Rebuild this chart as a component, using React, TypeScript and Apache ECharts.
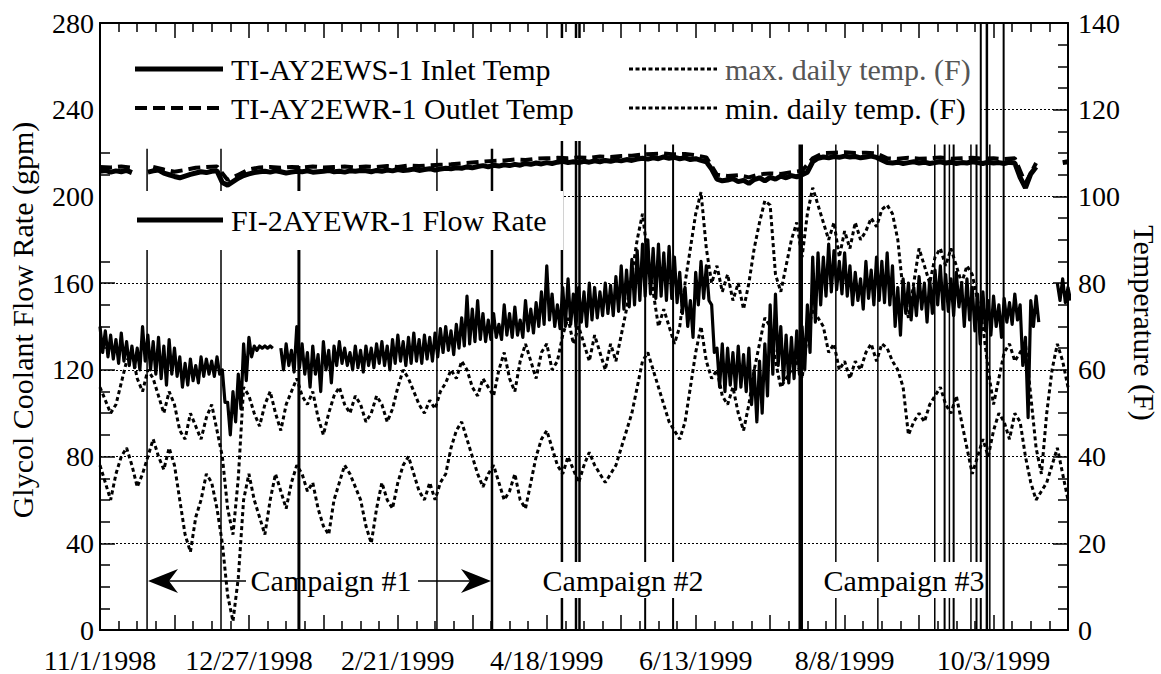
import React, { useEffect, useRef } from 'react';
import * as echarts from 'echarts';

// ---------- axis labels ----------
const dateLabels = ['11/1/1998', '12/27/1998', '2/21/1999', '4/18/1999', '6/13/1999', '8/8/1999', '10/3/1999'];
const labelStepDays = 56;
const dayMax = 364;

// ---------- data (day 0 = 11/1/1998) ----------
const sampleStepDays = 2; // flow, inlet, daily temps
const outletStepDays = 4;

// FI-2AYEWR-1 flow rate (gpm), upper / lower edge of the noisy trace, every 2 days
const flowHigh = [
  140, 138, 136, 134, 137, 133, 131, 130, 140, 136,
  133, 135, 131, 134, 130, 126, 123, 125, 122, 126,
  125, 124, 126, 120, 105, 110, 118, 132, 135, 131,
  131, 131, 131, null, 130, 132, 129, 140, 132, 128,
  131, 127, 133, 129, 131, 133, 130, 128, 131, 129,
  131, 130, 132, 133, 131, 134, 136, 133, 135, 137,
  134, 136, 135, 137, 139, 140, 138, 141, 144, 154,
  148, 152, 146, 143, 146, 141, 150, 146, 149, 143,
  152, 148, 151, 156, 168, 155, 150, 158, 162, 155,
  158, 156, 160, 158, 156, 160, 159, 163, 168, 166,
  171, 175, 178, 180, 176, 178, 174, 177, 172, 165,
  158, 152, 165, 170, 168, 150, 130, 132, 130, 128,
  131, 127, 130, 120, 124, 132, 150, 155, 140, 136,
  135, 138, 140, 150, 172, 174, 172, 178, 175, 170,
  174, 168, 165, 162, 170, 166, 172, 170, 174, 168,
  158, 162, 160, 158, 163, 160, 162, 166, 168, 164,
  162, 165, 160, 162, 158, 155, 156, 152, 154, 150,
  153, 151, 155, 150, 135, 152, 154, null, null, null,
  160, 162, 158,
];
const flowLow = [
  128, 126, 125, 123, 124, 122, 121, 120, 124, 120,
  118, 116, 113, 118, 117, 112, 113, 115, 114, 117,
  118, 117, 118, 105, 90, 96, 102, 115, 126, 129,
  130, 130, 130, null, 120, 122, 119, 121, 118, 112,
  118, 110, 120, 114, 122, 123, 122, 120, 121, 119,
  122, 121, 123, 122, 120, 123, 124, 122, 123, 124,
  123, 125, 124, 126, 128, 129, 127, 130, 131, 132,
  133, 134, 133, 134, 135, 134, 136, 135, 136, 135,
  138, 137, 140, 141, 143, 140, 139, 140, 141, 140,
  142, 140, 143, 144, 145, 146, 145, 147, 148, 149,
  150, 152, 154, 155, 153, 154, 152, 153, 151, 146,
  140, 135, 150, 153, 152, 128, 112, 110, 113, 111,
  112, 110, 104, 96, 100, 108, 118, 122, 115, 114,
  116, 118, 120, 128, 142, 150, 154, 156, 157, 155,
  154, 150, 152, 148, 153, 150, 152, 151, 150, 140,
  136, 146, 143, 145, 148, 142, 146, 150, 148, 147,
  145, 149, 140, 143, 138, 132, 138, 136, 140, 135,
  142, 141, 143, 122, 98, 140, 142, null, null, null,
  152, 151, 152,
];

// TI-AY2EWS-1 inlet temperature (F), every 2 days
const inletTemp = [
  105.8, 106.0, 105.6, 105.9, 105.7, 106.0, 105.5, null, null,
  105.6, 105.9, 106.1, 105.4, 105.0, 104.6, 104.3, 104.7, 105.1, 105.4, 105.7, 105.5, 105.8, 105.9,
  103.2, 102.6, 103.4, 104.2, 104.8, 105.2, 105.5,
  105.7, 105.8, 105.6, 105.9, 105.7, 105.4, 105.6, 105.8, 105.7, 105.9, 105.6, 105.7,
  105.8, 106.0, 105.7, 105.8, 105.6, 105.9, 105.8, 106.0, 105.9, 105.7, 106.0, 105.8,
  106.1, 105.9, 106.2, 106.0, 106.1, 106.3, 106.0, 106.2, 106.4, 106.1, 106.3, 106.5,
  106.4, 106.6, 106.5, 106.8, 106.6, 106.9, 107.1, 106.8, 107.2, 107.0, 107.3, 107.1,
  107.4, 107.2, 107.6, 107.4, 107.7, 107.5, 107.8, 107.6, 107.9, 108.1, 107.8,
  108.0, 107.8, 108.1, 107.9, 108.2, 108.0, 108.3, 108.1, 108.4, 108.2, 108.5, 108.3, 108.6, 108.8,
  108.6, 108.9, 108.7, 109.1, 108.8, 109.0, 108.7, 108.9, 108.5, 108.7, 108.3, 108.0,
  106.3, 104.0, 103.6, 103.8, 104.1, 103.4, 103.7, 103.0, 103.9, 104.3, 103.6, 104.4,
  104.0, 104.7, 104.3, 104.8, 104.5, 105.0,
  105.6, 108.0, 108.8, 109.1, 108.9, 109.2, 109.0, 109.3, 109.1, 109.2, 108.9, 109.1, 109.3, 109.0,
  108.4, 107.8, 107.7, 107.9, 107.6, 107.8, 108.0, 107.7, 107.9, 107.6, 107.8, 108.0, 107.7,
  107.9, 107.6, 107.8, 107.7, 108.0, 107.8, 107.6, 107.9, 107.7, 107.8, 107.6, 107.9, 107.7,
  104.4, 102.0, 105.2, 106.8,
  null, null, null, null,
  107.8, 108.0,
];

// TI-AY2EWR-1 outlet temperature (F), every 4 days
const outletTemp = [
  106.8, 106.7, 106.9, 106.6, null, 106.8, 106.2, 105.7, 106.1, 106.6,
  106.8, 106.9, 103.8, 105.0, 106.2, 106.7, 106.8, 106.6, 106.8, 106.7,
  106.9, 106.7, 106.8, 106.9, 106.7, 106.9, 106.8, 107.0, 106.8, 107.1,
  107.0, 107.2, 107.3, 107.4, 107.6, 107.8, 108.0, 108.2, 108.3, 108.5,
  108.4, 108.7, 108.8, 108.9, 108.8, 109.0, 108.9, 109.2, 109.1, 109.3,
  109.4, 109.7, 109.8, 109.9, 109.7, 109.8, 109.5, 109.0, 105.0, 104.7,
  104.9, 104.4, 105.1, 105.3, 105.2, 105.6, 105.9, 108.8, 110.0, 110.1,
  110.2, 110.0, 110.1, 109.9, 108.8, 108.7, 108.9, 108.7, 108.8, 109.0,
  108.7, 108.8, 108.9, 108.7, 108.8, 108.6, 108.8, 103.0, 107.7, null,
  null, 108.8,
];

// max. / min. daily ambient temperature (F), every 2 days
const maxDailyTemp = [
  56, 53, 50, 52, 57, 62, 64, 58, 55, 60,
  58, 54, 50, 55, 52, 46, 44, 50, 47, 44,
  49, 52, 46, 40, 28, 22, 35, 56, 54, 50,
  47, 52, 55, 50, 46, 52, 55, 58, 54, 52,
  55, 49, 45, 50, 54, 56, 52, 50, 54, 52,
  48, 50, 54, 52, 48, 51, 56, 60, 58, 55,
  52, 50, 53, 51, 55, 57, 60, 58, 62, 60,
  56, 54, 58, 56, 54, 60, 64, 58, 55, 62,
  66, 62, 58, 64, 66, 60, 62, 68, 72, 66,
  70, 66, 62, 68, 64, 60, 66, 62, 68, 74,
  82, 90, 96, 86, 78, 70, 74, 70, 66, 70,
  80, 88, 96, 101, 88, 80, 84, 78, 82, 76,
  80, 74, 80, 88, 94, 99, 98, 82, 78, 84,
  90, 94, 86, 96, 102, 98, 94, 90, 94, 86,
  92, 88, 94, 90, 92, 95, 93, 97, 98, 96,
  90, 78, 72, 80, 88, 84, 80, 86, 88, 84,
  88, 84, 80, 84, 82, 76, 70, 60, 52, 58,
  64, 66, 62, 64, 66, 54, 42, 36, 50, 60,
  66, 62, 56,
];
const minDailyTemp = [
  38, 34, 30, 36, 40, 42, 38, 33, 36, 40,
  44, 40, 37, 42, 38, 30, 22, 18, 26, 30,
  36, 34, 28, 20, 8, 2, 12, 30, 36, 30,
  26, 22, 30, 36, 32, 28, 34, 38, 36, 32,
  34, 28, 24, 22, 30, 34, 38, 36, 33, 30,
  24, 20, 28, 34, 30, 28, 34, 38, 40, 36,
  32, 30, 34, 30, 34, 36, 42, 46, 48, 44,
  40, 36, 33, 36, 38, 34, 30, 32, 36, 30,
  28, 34, 40, 44, 46, 42, 38, 36, 40, 37,
  34, 38, 41, 38, 36, 34, 36, 38, 42, 46,
  50, 56, 62, 64, 60, 56, 52, 48, 46, 44,
  48, 56, 64, 70, 62, 58, 60, 54, 52, 56,
  50, 46, 52, 60, 66, 72, 70, 62, 56, 58,
  60, 62, 58, 68, 74, 72, 70, 64, 66, 60,
  62, 58, 62, 60, 64, 66, 62, 66, 65, 62,
  60, 56, 45, 48, 50, 48, 52, 54, 56, 52,
  50, 54, 48, 42, 36, 40, 44, 40, 46, 50,
  48, 44, 50, 48, 40, 34, 30, 32, 34, 38,
  42, 36, 30,
];

// short outages / off-scale readings (vertical strokes): day, top (F), stroke width
const spikeDays = [17.7, 45.5, 74.8, 126.7, 147.4, 173.7, 179.0, 180.3, 205.0, 215.5, 263.5, 276.7, 292.5, 313.9, 317.6, 319.4, 321.0, 327.5, 329.6, 331.2, 333.5, 334.6, 339.8];
const spikeTops = [111, 111, 107, 111, 111, 150, 150, 150, 112, 112, 112, 112, 112, 112, 112, 112, 112, 112, 112, 150, 150, 112, 150];
const spikeWidths = [1.5, 1.5, 3, 1.5, 2.5, 2.5, 2.5, 2.5, 2, 2, 4.5, 1.5, 1.5, 1.5, 2, 1.5, 2, 1.5, 2, 2, 2.5, 1.5, 2];

const FONT = '"Liberation Serif", "Times New Roman", Times, serif';

function buildOption() {
  const flowTrace: any[] = [];
  flowHigh.forEach((hi, k) => {
    const lo = flowLow[k];
    if (hi == null || lo == null) {
      flowTrace.push([k * sampleStepDays, null]);
    } else {
      flowTrace.push([k * sampleStepDays, hi]);
      flowTrace.push([k * sampleStepDays + 1, lo]);
    }
  });
  const inlet = inletTemp.map((v, i) => [i * sampleStepDays, v]);
  const outlet = outletTemp.map((v, i) => [i * outletStepDays, v]);
  const maxT = maxDailyTemp.map((v, i) => [i * sampleStepDays, v]);
  const minT = minDailyTemp.map((v, i) => [i * sampleStepDays, v]);
  const spikes = spikeDays.map((d, i) => [d, spikeTops[i], spikeWidths[i]]);

  const xLabelFmt = (v: number) => {
    if (v % labelStepDays === 0) {
      const idx = v / labelStepDays;
      return dateLabels[idx] ?? '';
    }
    return '';
  };

  const axisLine = { show: true, onZero: false, lineStyle: { color: '#000', width: 2 } };
  const labelStyle = { color: '#000', fontSize: 28, fontFamily: FONT };

  const xCommon = {
    type: 'value', min: 0, max: dayMax, interval: 28,
    axisLine,
    axisTick: { show: true, inside: true, length: 15, lineStyle: { color: '#000', width: 1.5 } },
    minorTick: { show: true, splitNumber: 4, length: 9, lineStyle: { color: '#000', width: 1.5 } },
    splitLine: { show: false },
    minorSplitLine: { show: false },
  };

  const legendY1 = 69, legendY2 = 108, legendY3 = 220;
  const textStyle = (text: string, fill = '#000', align = 'left', size = 30) => ({
    text, fill, fontSize: size, fontFamily: FONT,
    align, verticalAlign: 'middle', textAlign: align, textVerticalAlign: 'middle',
  });

  const graphic: any[] = [
    // white boxes behind legend / labels
    { type: 'rect', z: 100, shape: { x: 101, y: 38, width: 877, height: 103 }, style: { fill: '#fff' } },
    { type: 'rect', z: 100, shape: { x: 101, y: 191, width: 462, height: 59 }, style: { fill: '#fff' } },
    { type: 'rect', z: 100, shape: { x: 540, y: 562, width: 166, height: 36 }, style: { fill: '#fff' } },
    { type: 'rect', z: 100, shape: { x: 823, y: 562, width: 161, height: 36 }, style: { fill: '#fff' } },
    // legend samples
    { type: 'line', z: 101, shape: { x1: 135, y1: legendY1, x2: 223, y2: legendY1 }, style: { stroke: '#000', lineWidth: 5 } },
    { type: 'line', z: 101, shape: { x1: 135, y1: legendY2, x2: 223, y2: legendY2 }, style: { stroke: '#000', lineWidth: 4, lineDash: [12, 6] } },
    { type: 'line', z: 101, shape: { x1: 137, y1: legendY3, x2: 223, y2: legendY3 }, style: { stroke: '#000', lineWidth: 5 } },
    { type: 'line', z: 101, shape: { x1: 629, y1: legendY1, x2: 717, y2: legendY1 }, style: { stroke: '#000', lineWidth: 3, lineDash: [4, 2.5] } },
    { type: 'line', z: 101, shape: { x1: 629, y1: legendY2, x2: 717, y2: legendY2 }, style: { stroke: '#000', lineWidth: 3, lineDash: [4, 2.5] } },
    { type: 'text', z: 101, x: 231, y: legendY1, style: textStyle('TI-AY2EWS-1 Inlet Temp') },
    { type: 'text', z: 101, x: 231, y: legendY2, style: textStyle('TI-AY2EWR-1 Outlet Temp') },
    { type: 'text', z: 101, x: 231, y: legendY3, style: textStyle('FI-2AYEWR-1 Flow Rate') },
    { type: 'text', z: 101, x: 725, y: legendY1, style: textStyle('max. daily temp. (F)', '#555') },
    { type: 'text', z: 101, x: 725, y: legendY2, style: textStyle('min. daily temp. (F)') },
    // campaign annotations
    { type: 'line', z: 101, shape: { x1: 168, y1: 581, x2: 246, y2: 581 }, style: { stroke: '#000', lineWidth: 1.5 } },
    { type: 'polygon', z: 101, shape: { points: [[148, 581], [178, 569], [169, 581], [178, 593]] }, style: { fill: '#000' } },
    { type: 'line', z: 101, shape: { x1: 418, y1: 581, x2: 472, y2: 581 }, style: { stroke: '#000', lineWidth: 1.5 } },
    { type: 'polygon', z: 101, shape: { points: [[491, 581], [461, 569], [470, 581], [461, 593]] }, style: { fill: '#000' } },
    { type: 'text', z: 101, x: 331, y: 580, style: textStyle('Campaign #1', '#000', 'center') },
    { type: 'text', z: 101, x: 623, y: 580, style: textStyle('Campaign #2', '#000', 'center') },
    { type: 'text', z: 101, x: 904, y: 580, style: textStyle('Campaign #3', '#000', 'center') },
    // axis titles
    { type: 'text', z: 101, x: 22, y: 320, rotation: Math.PI / 2, style: textStyle('Glycol Coolant Flow Rate (gpm)', '#000', 'center') },
    { type: 'text', z: 101, x: 1144, y: 323, rotation: -Math.PI / 2, style: textStyle('Temperature (F)', '#000', 'center') },
  ];

  return {
    animation: false,
    backgroundColor: '#fff',
    grid: { left: 100, right: 93, top: 23, bottom: 44, containLabel: false, outerBoundsMode: 'none' },
    xAxis: [
      { ...xCommon, position: 'bottom', axisLabel: { ...labelStyle, margin: 16, formatter: xLabelFmt, showMinLabel: true, showMaxLabel: true, hideOverlap: false } },
      { ...xCommon, position: 'top', axisLabel: { show: false } },
    ],
    yAxis: [
      {
        type: 'value', min: 0, max: 280, interval: 40, position: 'left',
        axisLine,
        axisTick: { show: true, inside: true, length: 15, lineStyle: { color: '#000', width: 1.5 } },
        minorTick: { show: true, splitNumber: 4, length: 10, lineStyle: { color: '#000', width: 1.5 } },
        axisLabel: { ...labelStyle, margin: 6 },
        splitLine: { show: true, lineStyle: { color: '#000', width: 1, type: [2, 2] } },
        minorSplitLine: { show: false },
      },
      {
        type: 'value', min: 0, max: 140, interval: 20, position: 'right',
        axisLine,
        axisTick: { show: true, inside: true, length: 15, lineStyle: { color: '#000', width: 1.5 } },
        minorTick: { show: true, splitNumber: 4, length: 10, lineStyle: { color: '#000', width: 1.5 } },
        axisLabel: { ...labelStyle, margin: 10 },
        splitLine: { show: false },
        minorSplitLine: { show: false },
      },
    ],
    series: [
      {
        name: 'max. daily temp. (F)', type: 'line', xAxisIndex: 0, yAxisIndex: 1, data: maxT,
        showSymbol: false, symbol: 'none', z: 2, silent: true,
        lineStyle: { color: '#000', width: 3, type: [4, 3] },
      },
      {
        name: 'min. daily temp. (F)', type: 'line', xAxisIndex: 0, yAxisIndex: 1, data: minT,
        showSymbol: false, symbol: 'none', z: 2, silent: true,
        lineStyle: { color: '#000', width: 3, type: [4, 3] },
      },
      {
        name: 'FI-2AYEWR-1 Flow Rate', type: 'line', xAxisIndex: 0, yAxisIndex: 0, data: flowTrace,
        showSymbol: false, symbol: 'none', z: 3, silent: true, connectNulls: false,
        lineStyle: { color: '#000', width: 3.2, join: 'round' },
      },
      {
        name: 'TI-AY2EWS-1 Inlet Temp', type: 'line', xAxisIndex: 0, yAxisIndex: 1, data: inlet,
        showSymbol: false, symbol: 'none', z: 4, silent: true, connectNulls: false,
        lineStyle: { color: '#000', width: 5 },
      },
      {
        name: 'TI-AY2EWR-1 Outlet Temp', type: 'line', xAxisIndex: 0, yAxisIndex: 1, data: outlet,
        showSymbol: false, symbol: 'none', z: 4, silent: true, connectNulls: false,
        lineStyle: { color: '#000', width: 4, type: [12, 6] },
      },
      {
        name: 'outages', type: 'custom', xAxisIndex: 0, yAxisIndex: 1, data: spikes,
        encode: { x: 0, y: 1 }, z: 5, silent: true, clip: true,
        renderItem: (params: any, api: any) => {
          const d = api.value(0);
          const top = Math.min(api.value(1), 140);
          const p0 = api.coord([d, 0]);
          const p1 = api.coord([d, top]);
          return {
            type: 'line',
            shape: { x1: p0[0], y1: p0[1], x2: p1[0], y2: p1[1] },
            style: { stroke: '#000', lineWidth: api.value(2) },
          };
        },
      },
    ],
    graphic,
  };
}

export default function App() {
  const ref = useRef<HTMLDivElement>(null);
  useEffect(() => {
    if (!ref.current) return;
    const chart = echarts.init(ref.current, undefined, { renderer: 'svg' });
    chart.setOption(buildOption() as any);
    return () => chart.dispose();
  }, []);
  return (
    <div
      ref={ref}
      style={{ position: 'fixed', left: 0, top: 0, width: 1161, height: 674, background: '#fff' }}
    />
  );
}
